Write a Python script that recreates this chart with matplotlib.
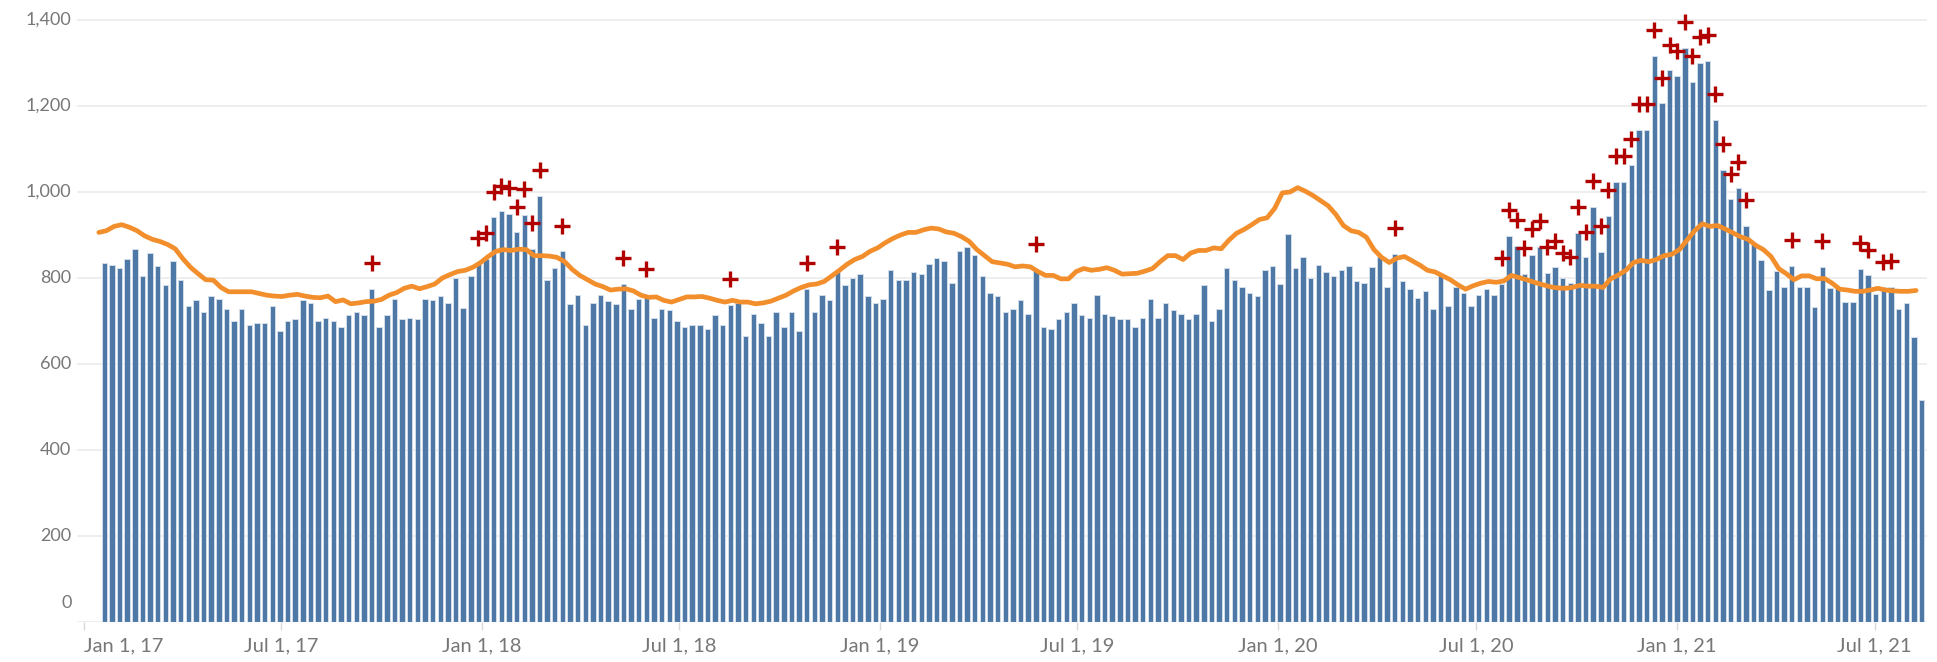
import numpy as np
import pandas as pd
import matplotlib
matplotlib.use("Agg")
import matplotlib.pyplot as plt
from matplotlib.transforms import ScaledTranslation

# ---------------- data ----------------
first_week = "2017-01-20"

deaths = [835, 831, 823, 845, 867, 805, 857, 827, 783, 840,
          796, 735, 748, 722, 757, 751, 729, 700, 729, 690,
          695, 695, 735, 677, 699, 704, 748, 743, 699, 708,
          700, 686, 713, 721, 713, 774, 686, 713, 752, 704,
          708, 704, 752, 748, 757, 743, 801, 730, 805, 832,
          844, 941, 955, 949, 906, 947, 867, 990, 796, 823,
          862, 739, 761, 690, 743, 761, 746, 739, 787, 729,
          752, 760, 708, 729, 725, 699, 686, 690, 690, 682,
          713, 690, 738, 741, 664, 717, 695, 664, 721, 686,
          721, 677, 774, 721, 761, 748, 813, 783, 801, 809,
          757, 743, 752, 819, 796, 796, 813, 809, 832, 846,
          840, 788, 862, 871, 853, 805, 764, 757, 721, 729,
          748, 717, 819, 686, 682, 704, 721, 743, 713, 708,
          761, 717, 711, 704, 704, 686, 708, 752, 708, 743,
          725, 717, 704, 717, 783, 699, 729, 823, 796, 779,
          764, 757, 818, 827, 787, 902, 823, 849, 801, 831,
          813, 805, 818, 827, 794, 788, 825, 848, 780, 856,
          792, 775, 753, 770, 727, 809, 736, 780, 766, 736,
          761, 775, 761, 786, 898, 875, 809, 854, 872, 812,
          826, 799, 789, 904, 848, 966, 860, 945, 1024, 1024,
          1063, 1145, 1145, 1316, 1206, 1283, 1269, 1335, 1256, 1301,
          1304, 1168, 1051, 983, 1009, 921, 881, 842, 771, 817,
          780, 829, 780, 780, 732, 825, 776, 776, 744, 744,
          822, 806, 763, 778, 780, 727, 741, 663, 517]

expected = [906, 910, 920, 924, 918, 910, 898, 890, 885, 878, 868, 845, 825, 810, 796, 795,
            778, 768, 768, 768, 768, 764, 760, 758, 757,
            760, 762, 758, 755, 754, 758, 745, 749, 740, 742, 745, 746, 750, 760, 766, 776,
            781, 775, 780, 786, 800, 808, 815,
            818, 825, 836, 850, 862, 866, 864, 867, 866, 852, 852, 851, 848, 838, 820, 806,
            796, 786, 780, 772, 774, 775, 770, 760,
            755, 756, 748, 744, 750, 756, 756, 757, 753, 748, 744, 748, 744, 744, 740, 742,
            746, 753, 760, 770, 778, 784, 786, 792,
            805, 818, 832, 843, 850, 862, 870, 882, 892, 900, 906, 906, 912, 916, 914, 907,
            904, 896, 885, 866, 852, 838, 835,
            832, 826, 828, 826, 815, 806, 806, 798, 798, 815, 822, 818, 820, 824, 818, 809,
            810, 811, 816, 822, 838, 852, 852, 843,
            858, 864, 864, 870, 868, 888, 904, 913, 924, 936, 940, 962, 998, 1000, 1010, 1002,
            992, 980, 968, 948, 922, 910, 906,
            895, 866, 848, 836, 846, 850, 840, 830, 818, 814, 805, 796, 784, 774, 782, 788,
            792, 790, 793, 806, 801, 796, 790, 785,
            780, 777, 776, 778, 783, 781, 781, 778, 798, 807, 818, 836, 841, 838, 843, 852,
            855, 866, 888, 910, 926, 920, 922,
            914, 905, 896, 890, 876, 866, 850, 822, 810, 796, 805, 805, 798, 799, 788, 774,
            772, 769, 769, 772, 776, 772, 770, 769, 769, 771]

# weeks (1-based) marked with a red cross
flagged_weeks = [36, 50, 51, 52, 53, 54, 55, 56, 57, 58, 61, 69, 72, 83, 93, 97, 123, 170,
                 184, 185, 186, 187, 188, 189, 190, 191, 192, 193, 194, 195, 196, 197, 198,
                 199, 200, 201, 202, 203, 204, 205, 206, 207, 208, 209, 210, 211, 212, 213,
                 214, 215, 216, 222, 226, 231, 232, 234, 235]
marker_offset = 60

y_ticks = [0, 200, 400, 600, 800, 1000, 1200, 1400]
x_tick_dates = ["2017-01-01", "2017-07-01", "2018-01-01", "2018-07-01", "2019-01-01",
                "2019-07-01", "2020-01-01", "2020-07-01", "2021-01-01", "2021-07-01"]
x_tick_labels = ["Jan 1, 17", "Jul 1, 17", "Jan 1, 18", "Jul 1, 18", "Jan 1, 19",
                 "Jul 1, 19", "Jan 1, 20", "Jul 1, 20", "Jan 1, 21", "Jul 1, 21"]

# ---------------- figure ----------------
W, H = 1937, 662
DPI = 100
fig = plt.figure(figsize=(W / DPI, H / DPI), dpi=DPI)
fig.patch.set_facecolor("white")
ax = fig.add_axes([77 / W, 40 / H, (1927 - 77) / W, 622 / H])

weeks = pd.date_range(first_week, periods=len(deaths), freq="7D")
deaths_arr = np.array(deaths)

ax.bar(weeks, deaths_arr, width=5.0, color="#4e79a7", edgecolor="#d3deea",
       linewidth=0.7, zorder=2)
ax.plot(weeks - pd.Timedelta(days=5), expected, color="#f28e2b", lw=3.4,
        solid_capstyle="round", solid_joinstyle="round", zorder=3)
idx = np.array(flagged_weeks) - 1
ax.plot(weeks[idx], deaths_arr[idx] + marker_offset, ls="none", marker="+",
        ms=11, mew=2.4, color="#b00000", zorder=4)

ax.set_xlim(pd.Timestamp("2016-12-26"), pd.Timestamp("2021-08-18"))
ax.set_ylim(0, 1446.5)

for s in ax.spines.values():
    s.set_visible(False)

ax.set_yticks(y_ticks)
ax.yaxis.grid(True, color="#ebebeb", lw=1.2, zorder=0)
ax.set_axisbelow(True)
ax.tick_params(axis="y", length=0, labelleft=False)

font = "Lato"
label_color = "#777777"
for v in y_ticks:
    t = ax.text(-0.0030, v, f"{v:,}", transform=ax.get_yaxis_transform(),
                ha="right", va="center", fontsize=13, color=label_color, family=font)
    if v == 0:
        t.set_transform(ax.get_yaxis_transform() +
                        ScaledTranslation(0, 19 / DPI, fig.dpi_scale_trans))

ax.set_xticks(pd.to_datetime(x_tick_dates))
ax.set_xticklabels(x_tick_labels, fontsize=14.5, color=label_color, family=font)
ax.tick_params(axis="x", length=6, width=1, color="#d9d9d9", pad=5)
first_lab = ax.get_xticklabels()[0]
first_lab.set_horizontalalignment("left")

fig.savefig("out.png", dpi=DPI, facecolor="white")
